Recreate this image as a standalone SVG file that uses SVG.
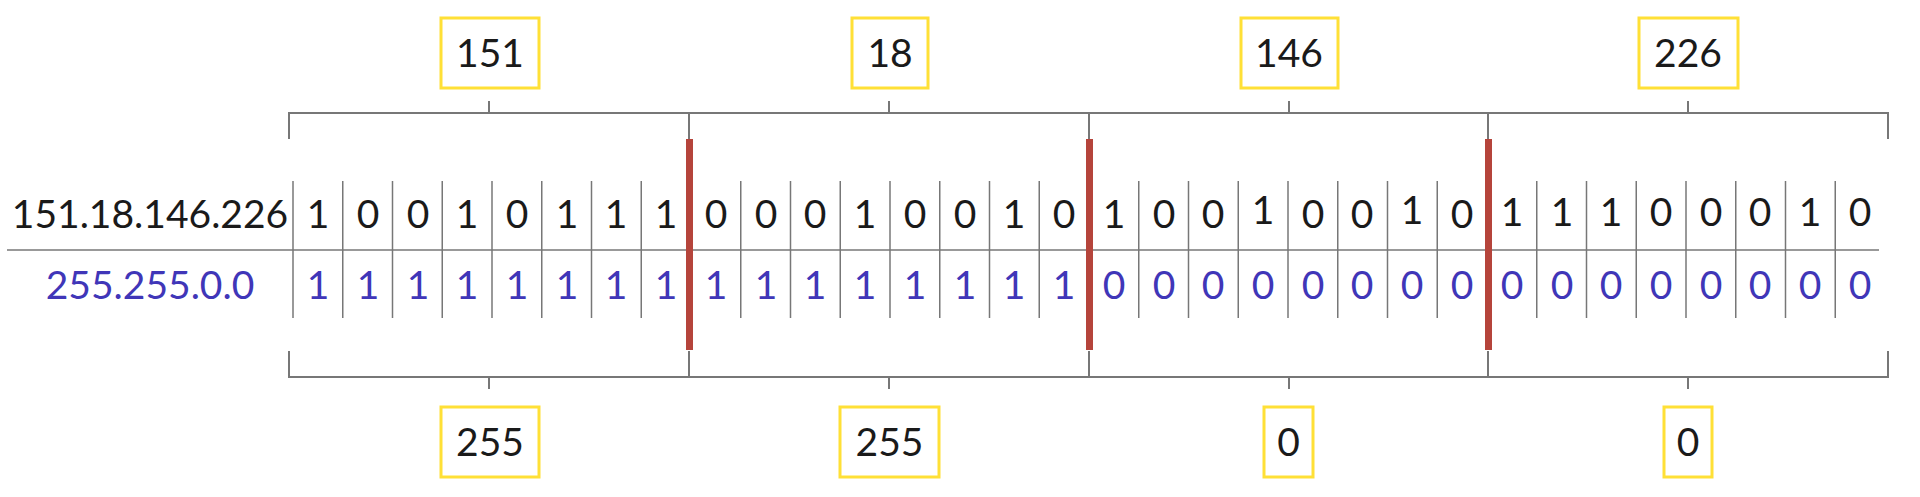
<svg xmlns="http://www.w3.org/2000/svg" width="1920" height="497" viewBox="0 0 1920 497">
<style>
text{font-family:Lato,"Open Sans","Liberation Sans",sans-serif;font-size:39px;text-anchor:middle}
.k{fill:#1a1a1a}
.b{fill:#4036b8}
.box{fill:#fff;stroke:#ffe036;stroke-width:3}
.ln{stroke:#777;stroke-width:2;fill:none}
.cell{stroke:#777;stroke-width:1.5}
.red{fill:#b5443b}
</style>
<rect width="1920" height="497" fill="#fff"/>
<g id="connectors">
<path class="ln" d="M289,139V113H1888V139M689,113V139M1089,113V139M1488,113V139M489,101V113M889,101V113M1289,101V113M1688,101V113"/>
<path class="ln" d="M289,351V377H1888V351M689,351V377M1089,351V377M1488,351V377M489,377V389M889,377V389M1289,377V389M1688,377V389"/>
</g>
<g id="grid">
<line class="cell" x1="7" y1="250" x2="1879" y2="250"/>
<g class="cell">
<line x1="293" y1="181" x2="293" y2="318"/><line x1="342.75" y1="181" x2="342.75" y2="318"/><line x1="392.5" y1="181" x2="392.5" y2="318"/><line x1="442.25" y1="181" x2="442.25" y2="318"/><line x1="492" y1="181" x2="492" y2="318"/><line x1="541.75" y1="181" x2="541.75" y2="318"/><line x1="591.5" y1="181" x2="591.5" y2="318"/><line x1="641.25" y1="181" x2="641.25" y2="318"/>
<line x1="740.75" y1="181" x2="740.75" y2="318"/><line x1="790.5" y1="181" x2="790.5" y2="318"/><line x1="840.25" y1="181" x2="840.25" y2="318"/><line x1="890" y1="181" x2="890" y2="318"/><line x1="939.75" y1="181" x2="939.75" y2="318"/><line x1="989.5" y1="181" x2="989.5" y2="318"/><line x1="1039.25" y1="181" x2="1039.25" y2="318"/>
<line x1="1138.75" y1="181" x2="1138.75" y2="318"/><line x1="1188.5" y1="181" x2="1188.5" y2="318"/><line x1="1238.25" y1="181" x2="1238.25" y2="318"/><line x1="1288" y1="181" x2="1288" y2="318"/><line x1="1337.75" y1="181" x2="1337.75" y2="318"/><line x1="1387.5" y1="181" x2="1387.5" y2="318"/><line x1="1437.25" y1="181" x2="1437.25" y2="318"/>
<line x1="1536.75" y1="181" x2="1536.75" y2="318"/><line x1="1586.5" y1="181" x2="1586.5" y2="318"/><line x1="1636.25" y1="181" x2="1636.25" y2="318"/><line x1="1686" y1="181" x2="1686" y2="318"/><line x1="1735.75" y1="181" x2="1735.75" y2="318"/><line x1="1785.5" y1="181" x2="1785.5" y2="318"/><line x1="1835.25" y1="181" x2="1835.25" y2="318"/>
</g>
</g>
<g id="labels">
<text class="k" x="150" y="228">151.18.146.226</text>
<text class="b" x="150" y="299">255.255.0.0</text>
</g>
<g id="ip-bits" class="k">
<text x="318" y="228">1</text><text x="368" y="228">0</text><text x="418" y="228">0</text><text x="467" y="228">1</text><text x="517" y="228">0</text><text x="567" y="228">1</text><text x="616" y="228">1</text><text x="666" y="228">1</text>
<text x="716" y="228">0</text><text x="766" y="228">0</text><text x="815" y="228">0</text><text x="865" y="228">1</text><text x="915" y="228">0</text><text x="965" y="228">0</text><text x="1014" y="228">1</text><text x="1064" y="228">0</text>
<text x="1114" y="228">1</text><text x="1164" y="228">0</text><text x="1213" y="228">0</text><text x="1263" y="224">1</text><text x="1313" y="228">0</text><text x="1362" y="228">0</text><text x="1412" y="224">1</text><text x="1462" y="228">0</text>
<text x="1512" y="226">1</text><text x="1562" y="226">1</text><text x="1611" y="226">1</text><text x="1661" y="226">0</text><text x="1711" y="226">0</text><text x="1760" y="226">0</text><text x="1810" y="226">1</text><text x="1860" y="226">0</text>
</g>
<g id="mask-bits" class="b">
<text x="318" y="299">1</text><text x="368" y="299">1</text><text x="418" y="299">1</text><text x="467" y="299">1</text><text x="517" y="299">1</text><text x="567" y="299">1</text><text x="616" y="299">1</text><text x="666" y="299">1</text>
<text x="716" y="299">1</text><text x="766" y="299">1</text><text x="815" y="299">1</text><text x="865" y="299">1</text><text x="915" y="299">1</text><text x="965" y="299">1</text><text x="1014" y="299">1</text><text x="1064" y="299">1</text>
<text x="1114" y="299">0</text><text x="1164" y="299">0</text><text x="1213" y="299">0</text><text x="1263" y="299">0</text><text x="1313" y="299">0</text><text x="1362" y="299">0</text><text x="1412" y="299">0</text><text x="1462" y="299">0</text>
<text x="1512" y="299">0</text><text x="1562" y="299">0</text><text x="1611" y="299">0</text><text x="1661" y="299">0</text><text x="1711" y="299">0</text><text x="1760" y="299">0</text><text x="1810" y="299">0</text><text x="1860" y="299">0</text>
</g>
<g id="dividers">
<rect class="red" x="686" y="139" width="7" height="211"/>
<rect class="red" x="1086" y="139" width="7" height="211"/>
<rect class="red" x="1485" y="139" width="7" height="211"/>
</g>
<g id="box-151"><rect class="box" x="441" y="18" width="98" height="70"/><text class="k" x="490" y="67">151</text></g>
<g id="box-18"><rect class="box" x="852" y="18" width="76" height="70"/><text class="k" x="890" y="67">18</text></g>
<g id="box-146"><rect class="box" x="1241" y="18" width="97" height="70"/><text class="k" x="1289" y="67">146</text></g>
<g id="box-226"><rect class="box" x="1639" y="18" width="99" height="70"/><text class="k" x="1688" y="67">226</text></g>
<g id="box-255a"><rect class="box" x="441" y="407" width="98" height="70"/><text class="k" x="490" y="456">255</text></g>
<g id="box-255b"><rect class="box" x="840" y="407" width="99" height="70"/><text class="k" x="889.5" y="456">255</text></g>
<g id="box-0a"><rect class="box" x="1264" y="407" width="49" height="70"/><text class="k" x="1288.5" y="456">0</text></g>
<g id="box-0b"><rect class="box" x="1664" y="407" width="48" height="70"/><text class="k" x="1688" y="456">0</text></g>
</svg>
